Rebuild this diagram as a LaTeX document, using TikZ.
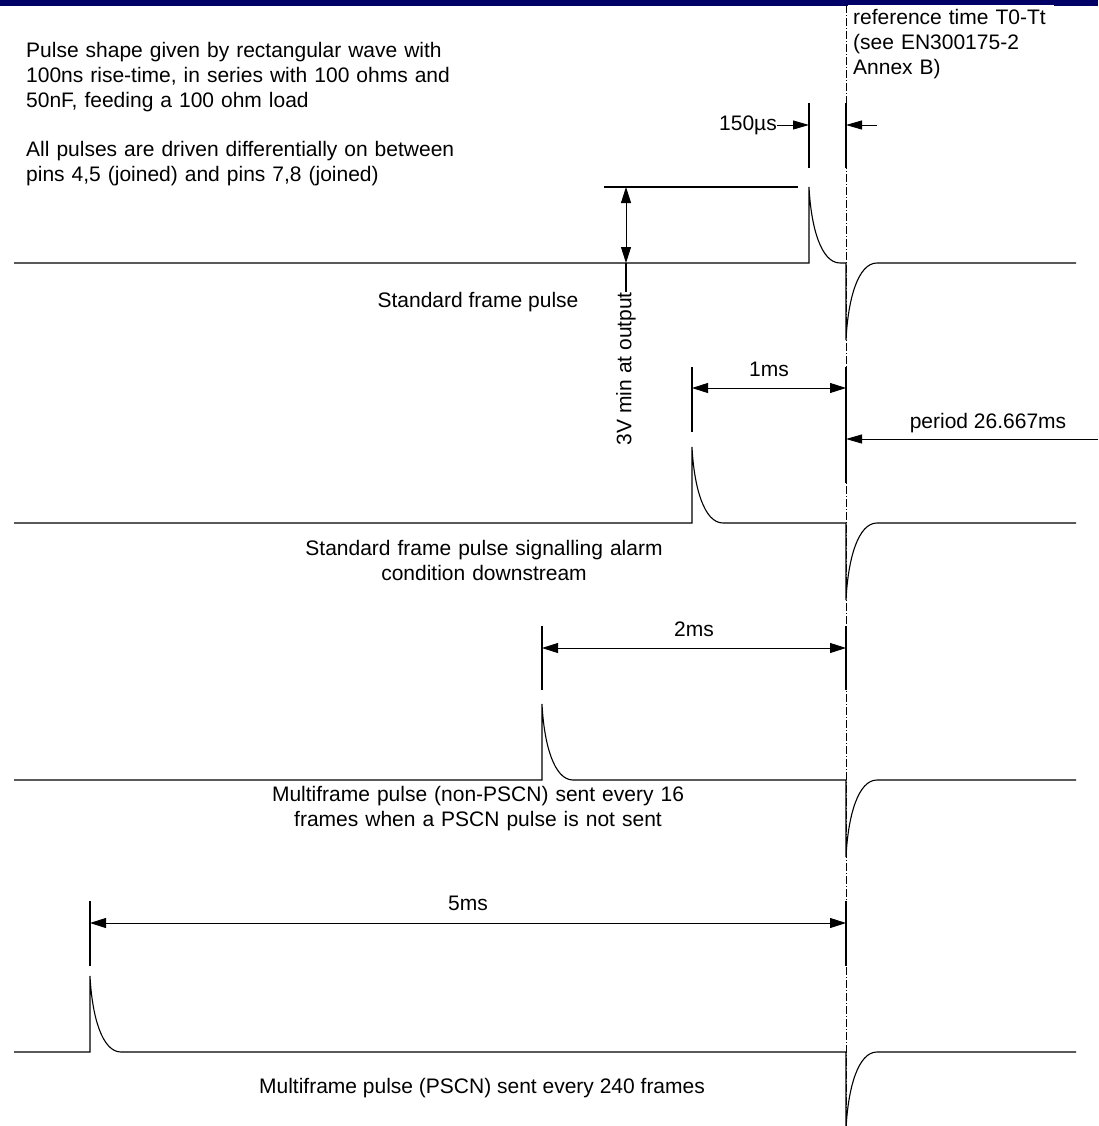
\documentclass[tikz,border=0pt]{standalone}
\usepackage{fontspec}
\setmainfont{Liberation Sans}
\usepackage{xcolor}
\usepackage{tikz}
\usetikzlibrary{arrows.meta}
\definecolor{navybar}{RGB}{0,0,102}

\begin{document}
\begin{tikzpicture}[x=1pt,y=-1pt,
    lbl/.style={font=\fontsize{21}{25}\selectfont, inner sep=0pt},
    wave/.style={line width=1.1pt},
    tickmark/.style={line width=1.6pt},
    dim/.style={line width=0.9pt, {Triangle[length=16pt,width=10pt]}-{Triangle[length=16pt,width=10pt]}},
    dimr/.style={line width=0.9pt, -{Triangle[length=16pt,width=9pt]}},
    refline/.style={line width=0.8pt, dash pattern=on 8pt off 2pt on 1pt off 2pt}]
    \useasboundingbox (0,0) rectangle (1098,1126);
    \fill[navybar] (0,0) rectangle (1098,6);

    % reference time line
    \draw[refline] (846,5) -- (846,1126);

    % the four pulse trains
    \foreach \yb/\xp in {263/809, 523/692, 780/542, 1052/90}{
      \draw[wave] (14,\yb) -- (\xp,\yb) -- (\xp,\yb-76)
        .. controls (\xp+2,\yb-36) and (\xp+12,\yb) .. (\xp+31,\yb)
        -- (846,\yb) -- (846,\yb+77)
        .. controls (848,\yb+36) and (858,\yb) .. (877,\yb) -- (1076,\yb);
    }

    % notes
    \node[lbl, anchor=base west, text width=450pt, align=left] (shape) at (26,58)
      {Pulse shape given by rectangular wave with\\100ns rise-time, in series with 100 ohms and\\50nF, feeding a 100 ohm load};
    \node[lbl, anchor=base west, text width=450pt, align=left] (drive) at (26,157)
      {All pulses are driven differentially on between\\pins 4,5 (joined) and pins 7,8 (joined)};
    \node[lbl, anchor=north west, fill=white, text width=196pt, inner xsep=5pt, inner ysep=4pt, align=left] (ref) at (848,5)
      {reference time T0-Tt\\(see EN300175-2\\Annex B)};

    % standard frame pulse
    \draw[tickmark] (809,103) -- (809,168);
    \draw[tickmark] (846,103) -- (846,168);
    \node[lbl, anchor=east] (w150) at (777,125) {150µs};
    \coordinate (e150) at (809,125);
    \coordinate (f150) at (877,125);
    \coordinate (g150) at (846,125);
    \draw[dimr] (w150) -- (e150);
    \draw[dimr] (f150) -- (g150);
    \draw[wave] (604,187) -- (798,187);
    \coordinate (vtop) at (626,187);
    \coordinate (vbot) at (626,263);
    \draw[dim] (vtop) -- (vbot);
    \node[lbl, rotate=90, anchor=east] (v3) at (626,292) {3V min at output};
    \draw[wave] (vbot) -- (v3.east);
    \node[lbl, anchor=base] (std) at (478,307) {Standard frame pulse};

    % alarm pulse
    \draw[tickmark] (692,367) -- (692,432);
    \draw[tickmark] (846,367) -- (846,483);
    \coordinate (m1a) at (692,388);
    \coordinate (m1b) at (846,388);
    \draw[dim] (m1a) -- (m1b) node[lbl, midway, above=11pt] (w1ms) {1ms};
    \coordinate (pa) at (1098,439);
    \coordinate (pb) at (846,439);
    \draw[dimr] (pa) -- (pb);
    \node[lbl, anchor=base] (per) at (988,428) {period 26.667ms};
    \node[lbl, anchor=base, text width=400pt, align=center] (alarm) at (484,555)
      {Standard frame pulse signalling alarm\\condition downstream};

    % multiframe pulse, non-PSCN
    \draw[tickmark] (542,626) -- (542,690);
    \draw[tickmark] (846,626) -- (846,690);
    \coordinate (m2a) at (542,648);
    \coordinate (m2b) at (846,648);
    \draw[dim] (m2a) -- (m2b) node[lbl, midway, above=11pt] (w2ms) {2ms};
    \node[lbl, anchor=base, text width=440pt, align=center] (mfa) at (478,801)
      {Multiframe pulse (non-PSCN) sent every 16\\frames when a PSCN pulse is not sent};

    % multiframe pulse, PSCN
    \draw[tickmark] (90,901) -- (90,966);
    \draw[tickmark] (846,901) -- (846,966);
    \coordinate (m5a) at (90,923);
    \coordinate (m5b) at (846,923);
    \draw[dim] (m5a) -- (m5b) node[lbl, midway, above=12pt] (w5ms) {5ms};
    \node[lbl, anchor=base] (mfb) at (482,1093) {Multiframe pulse (PSCN) sent every 240 frames};
\end{tikzpicture}
\end{document}
